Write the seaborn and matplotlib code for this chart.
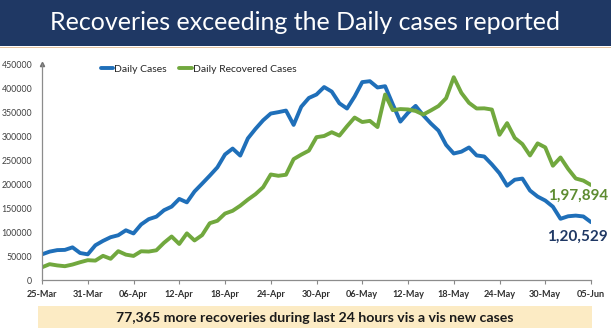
import matplotlib
matplotlib.use("Agg")
import matplotlib.pyplot as plt
import matplotlib.dates as mdates
from matplotlib.patches import Rectangle
from matplotlib.lines import Line2D
import numpy as np
import pandas as pd
import seaborn as sns

start_date = "2021-03-25"
end_date = "2021-06-05"

daily_cases = [53476, 59118, 62258, 62714, 68020, 56211, 53480, 72330, 81466, 89129,
               93249, 103558, 96982, 115736, 126789, 131968, 145384, 152879, 168912, 161736,
               184372, 200739, 217353, 234692, 261500, 273810, 259170, 295041, 314835, 332730,
               346786, 349691, 352991, 323144, 360960, 379257, 386452, 401993, 392488, 368147,
               357229, 382315, 412262, 414188, 401078, 403738, 366161, 329942, 348421, 362727,
               343144, 326098, 311170, 281386, 263533, 267334, 276110, 259551, 257299, 240842,
               222315, 196427, 208921, 211298, 186364, 173790, 165553, 152734, 127510, 132788,
               134154, 132364, 120529]

daily_recovered = [26490, 32987, 30386, 28739, 32231, 37028, 41280, 40382, 50356, 44202,
                   60048, 52847, 50143, 59856, 59258, 61899, 77567, 90584, 75086, 97168,
                   82339, 93528, 118302, 123354, 138423, 144178, 154761, 167457, 178841, 193279,
                   219838, 217113, 219272, 251827, 261162, 269507, 297540, 299988, 307865, 300732,
                   320289, 338439, 329113, 331507, 318609, 386444, 353818, 356082, 355338, 352181,
                   344776, 353299, 362437, 378741, 422436, 389851, 369077, 357295, 357630, 355102,
                   302544, 326850, 295955, 283135, 259459, 284601, 276309, 238022, 255287, 231456,
                   211499, 207071, 197894]

series_names = ["Daily Cases", "Daily Recovered Cases"]
title_text = "Recoveries exceeding the Daily cases reported"
footer_text = "77,365 more recoveries during last 24 hours vis a vis new cases"
end_labels = ["1,97,894", "1,20,529"]
y_ticks = [0, 50000, 100000, 150000, 200000, 250000, 300000, 350000, 400000, 450000]

dates = pd.date_range(start_date, end_date)
df = pd.DataFrame({
    "date": list(dates) * 2,
    "value": daily_cases + daily_recovered,
    "series": [series_names[0]] * len(dates) + [series_names[1]] * len(dates),
})

sns.set_theme(style="white")
plt.rcParams["font.family"] = ["Lato", "DejaVu Sans"]

BLUE = "#1F6FB9"
GREEN = "#71A83E"
NAVY = "#1F3864"

fig = plt.figure(figsize=(6.11, 3.33), dpi=100)
W, H = 611, 333
ax = fig.add_axes([42 / W, 1 - 280 / H, (591 - 42) / W, (280 - 64) / H])

sns.lineplot(data=df, x="date", y="value", hue="series",
             palette=[BLUE, GREEN], linewidth=2.8, ax=ax, legend=False)

ax.set_xlim(dates[0], dates[-1])
ax.set_ylim(0, 450000)
ax.set_yticks(y_ticks)
ax.set_yticklabels([str(v) for v in y_ticks], fontsize=6.3, color="#404040")
ax.set_xticks(dates[::6])
ax.xaxis.set_major_formatter(mdates.DateFormatter("%d-%b"))
for lab in ax.get_xticklabels():
    lab.set_fontweight("bold")
    lab.set_fontsize(6.6)
    lab.set_color("#303030")
ax.set_xlabel("")
ax.set_ylabel("")
ax.tick_params(axis="x", length=3, width=0.8, color="#888888", pad=4, direction="out", bottom=True)
ax.tick_params(axis="y", length=0, pad=7)
for s in ["top", "right"]:
    ax.spines[s].set_visible(False)
for s in ["left", "bottom"]:
    ax.spines[s].set_color("#8C8C8C")
    ax.spines[s].set_linewidth(0.9)
ax.plot([0], [1], marker="^", markersize=3, color="#707070", transform=ax.transAxes, clip_on=False)

handles = [Line2D([0], [0], color=BLUE, lw=2.8), Line2D([0], [0], color=GREEN, lw=2.8)]
ax.legend(handles, series_names, loc="upper left", bbox_to_anchor=(0.09, 1.04), ncol=2,
          frameon=False, fontsize=7.5, handlelength=1.2, handletextpad=0.1, columnspacing=1.2)

ax.annotate(end_labels[0], xy=(dates[-1], daily_recovered[-1]), xytext=(17, -11),
            textcoords="offset pixels", ha="right", va="center", fontsize=11,
            fontweight="bold", color="#5E8C31", annotation_clip=False)
ax.annotate(end_labels[1], xy=(dates[-1], daily_cases[-1]), xytext=(17, -15),
            textcoords="offset pixels", ha="right", va="center", fontsize=11,
            fontweight="bold", color=NAVY, annotation_clip=False)

# title banner
fig.patches.append(Rectangle((0, 1 - 46 / H), 1, 46 / H, transform=fig.transFigure,
                             facecolor=NAVY, edgecolor="none", zorder=0))
fig.patches.append(Rectangle((0, 1 - 48 / H), 1, 1.5 / H, transform=fig.transFigure,
                             facecolor="#E3C3A0", edgecolor="none", zorder=0))
fig.text(305 / W, 1 - 23 / H, title_text, ha="center", va="center", color="white", fontsize=18)

# footer banner
fig.patches.append(Rectangle((38 / W, 1 - 328 / H), (592 - 38) / W, 22 / H,
                             transform=fig.transFigure, facecolor="#FCEBC4",
                             edgecolor="none", zorder=0))
fig.text(315 / W, 1 - 318 / H, footer_text, ha="center", va="center", color="#1A1A1A",
         fontsize=10.2, fontweight="bold")

fig.savefig("out.png", dpi=100)
